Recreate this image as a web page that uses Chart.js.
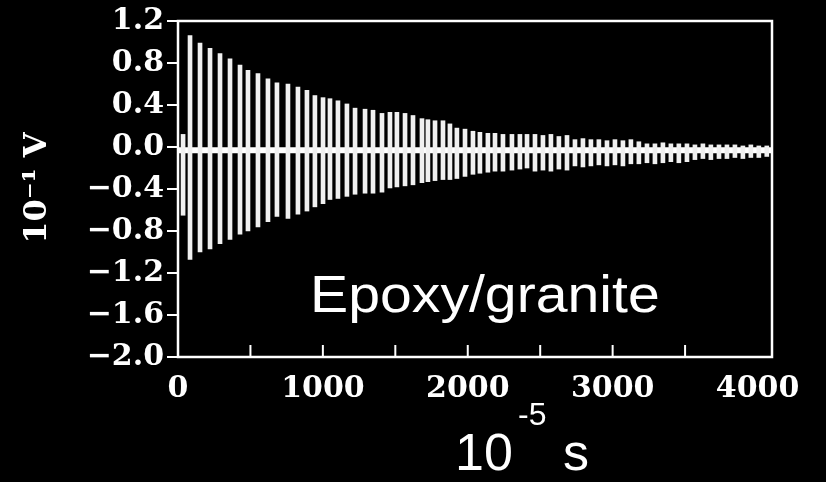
<!DOCTYPE html>
<html>
<head>
<meta charset="utf-8">
<script src="https://cdn.jsdelivr.net/npm/chart.js@4"></script>
<style>
  html, body { margin:0; padding:0; background:#000; }
  #wrap { width:826px; height:482px; }
</style>
</head>
<body>
<div id="wrap"><canvas id="chart" width="826" height="482"></canvas></div>
<script>
// ===== Dados (10^-5 s, 10^-1 V) =====
const spikeTimes = [35,83,152,221,290,359,428,483,552,621,683,
  759,828,890,945,1001,1049,1104,1166,1222,1291,1346,1408,
  1463,1511,1567,1622,1684,1725,1774,1829,1877,1925,1981,2036,2084,2139,2188,2243,2305,2360,2409,
  2464,2519,2574,2629,2685,2740,2795,2850,2905,2961,3016,3071,3126,3181,3237,3292,3347,3402,3457,3513,
  3568,3623,3678,3734,3789,3844,3899,3954,4009,4064];
const upperPeaks = [0.12,1.06,0.99,0.94,0.89,0.84,0.78,0.73,0.70,0.65,0.61,
  0.60,0.57,0.54,0.49,0.47,0.46,0.44,0.41,0.37,0.36,0.35,0.32,
  0.33,0.33,0.32,0.30,0.27,0.26,0.25,0.25,0.22,0.18,0.17,0.15,0.14,0.13,0.13,0.12,0.12,0.12,0.12,
  0.12,0.11,0.12,0.10,0.11,0.07,0.08,0.07,0.07,0.06,0.07,0.06,0.07,0.05,0.03,0.03,0.04,0.03,0.03,0.03,
  0.02,0.03,0.02,0.02,0.02,0.02,0.01,0.02,0.01,0.01];
const lowerPeaks = [-0.65,-1.07,-1.00,-0.97,-0.92,-0.88,-0.83,-0.80,-0.76,-0.71,-0.66,
  -0.68,-0.64,-0.61,-0.57,-0.54,-0.50,-0.49,-0.47,-0.45,-0.44,-0.44,-0.43,
  -0.39,-0.38,-0.37,-0.36,-0.34,-0.33,-0.32,-0.31,-0.31,-0.30,-0.28,-0.26,-0.25,-0.24,-0.23,-0.23,-0.22,-0.21,-0.20,
  -0.23,-0.22,-0.23,-0.21,-0.22,-0.18,-0.19,-0.18,-0.17,-0.18,-0.17,-0.18,-0.16,-0.16,-0.15,-0.16,-0.15,-0.14,-0.15,-0.14,
  -0.12,-0.11,-0.12,-0.11,-0.11,-0.10,-0.11,-0.10,-0.10,-0.09];
// linha de base (faixa branca perto de zero)
const baseTimes = [0, 4100];
const baseLevel = [-0.03, -0.03];
// eixos
const xTickValues = [0,500,1000,1500,2000,2500,3000,3500,4000];
const xTickLabels = ['0','','1000','','2000','','3000','','4000'];
const xMin = 0, xMax = 4100;
const yMin = -2.0, yMax = 1.2, yStep = 0.4;

const serif = 'DejaVu Serif';
const sans = 'Liberation Sans';

// ===== Plugin: moldura, ticks internos e textos =====
const extras = {
  id:'extras',
  afterDraw(chart){
    const {ctx, chartArea:a, scales} = chart;
    ctx.save();
    ctx.strokeStyle = '#fff';
    ctx.lineWidth = 2.5;
    ctx.strokeRect(a.left, a.top, a.right - a.left, a.bottom - a.top);
    // ticks para dentro no eixo x
    ctx.lineWidth = 2;
    xTickValues.forEach(v=>{
      if (v <= xMin || v >= 4000) return;
      const px = scales.x.getPixelForValue(v);
      ctx.beginPath(); ctx.moveTo(px, a.bottom); ctx.lineTo(px, a.bottom - 12); ctx.stroke();
    });
    ctx.fillStyle = '#fff';
    // título eixo y
    ctx.save();
    ctx.translate(38, 188);
    ctx.rotate(-Math.PI/2);
    ctx.font = `bold 32px "${serif}"`;
    ctx.textAlign = 'center'; ctx.textBaseline = 'middle';
    ctx.fillText('10\u207B\u00B9 V', 0, 0);
    ctx.restore();
    // título eixo x: 10^-5 s
    ctx.textAlign = 'left'; ctx.textBaseline = 'alphabetic';
    ctx.font = `52px "${sans}"`;
    ctx.fillText('10', 455, 470);
    ctx.fillText('s', 563, 470);
    ctx.font = `32px "${sans}"`;
    ctx.fillText('-5', 518, 425);
    // rótulo da amostra
    ctx.save();
    ctx.translate(310, 312);
    ctx.scale(1.1, 1);
    ctx.font = `52px "${sans}"`;
    ctx.fillText('Epoxy/granite', 0, 0);
    ctx.restore();
    ctx.restore();
  }
};

const spikeData = spikeTimes.map((t,i)=>({x:t, y:[lowerPeaks[i], upperPeaks[i]]}));
const baseData = baseTimes.map((t,i)=>({x:t, y:baseLevel[i]}));

new Chart(document.getElementById('chart'), {
  type:'bar',
  data:{
    datasets:[
      { type:'line', data:baseData, borderColor:'#fff', borderWidth:6, pointRadius:0, fill:false, order:2 },
      { type:'bar', data:spikeData, backgroundColor:'#f0f0f0', barThickness:4, borderWidth:0, order:1 }
    ]
  },
  options:{
    responsive:false,
    animation:false,
    layout:{ padding:{ top:21, right:54, bottom:0, left:0 } },
    plugins:{ legend:{display:false}, tooltip:{enabled:false} },
    scales:{
      x:{
        type:'linear', min:xMin, max:xMax, offset:false,
        afterBuildTicks: s => { s.ticks = xTickValues.map(v => ({value:v})); },
        afterFit: s => { s.height = 125; },
        grid:{ display:false },
        border:{ display:false },
        ticks:{ color:'#fff', padding:6, maxRotation:0, autoSkip:false,
          font:{ family:serif, size:30, weight:'bold' },
          callback: (v, i) => xTickLabels[i] }
      },
      y:{
        min:yMin, max:yMax,
        afterFit: s => { s.width = 178; },
        grid:{ display:true, drawOnChartArea:false, drawTicks:true, tickLength:11, color:'#fff', lineWidth:2 },
        border:{ display:false },
        ticks:{ stepSize:yStep, color:'#fff', padding:3,
          font:{ family:serif, size:30, weight:'bold' },
          callback: v => { const s = Math.abs(v).toFixed(1); return v < -0.001 ? '\u2212' + s : s; } }
      }
    }
  },
  plugins:[extras]
});
</script>
</body>
</html>
